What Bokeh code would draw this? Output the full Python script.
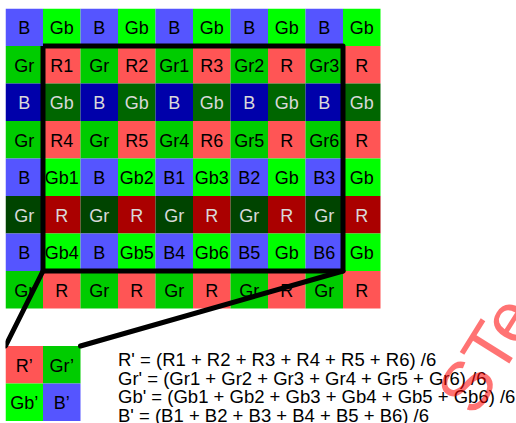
import re
from bokeh.plotting import figure
from bokeh.models import Range1d, ColumnDataSource, Label
from bokeh.core.properties import value
from bokeh.embed import file_html
from bokeh.resources import INLINE

# ---------------- data ----------------
grid_labels = [
    ["B", "Gb", "B", "Gb", "B", "Gb", "B", "Gb", "B", "Gb"],
    ["Gr", "R1", "Gr", "R2", "Gr1", "R3", "Gr2", "R", "Gr3", "R"],
    ["B", "Gb", "B", "Gb", "B", "Gb", "B", "Gb", "B", "Gb"],
    ["Gr", "R4", "Gr", "R5", "Gr4", "R6", "Gr5", "R", "Gr6", "R"],
    ["B", "Gb1", "B", "Gb2", "B1", "Gb3", "B2", "Gb", "B3", "Gb"],
    ["Gr", "R", "Gr", "R", "Gr", "R", "Gr", "R", "Gr", "R"],
    ["B", "Gb4", "B", "Gb5", "B4", "Gb6", "B5", "Gb", "B6", "Gb"],
    ["Gr", "R", "Gr", "R", "Gr", "R", "Gr", "R", "Gr", "R"],
]
dark_rows = [2, 5]

tile_labels = [["R\u2019", "Gr\u2019"], ["Gb\u2019", "B\u2019"]]

formulas = [
    "R' = (R1 + R2 + R3 + R4 + R5 + R6) /6",
    "Gr' = (Gr1 + Gr2 + Gr3 + Gr4 + Gr5 + Gr6) /6",
    "Gb' = (Gb1 + Gb2 + Gb3 + Gb4 + Gb5 + Gb6) /6",
    "B' = (B1 + B2 + B3 + B4 + B5 + B6) /6",
]

# highlighted block (cols, rows in cell units) and zoom tile position
box_cols = (1, 9)
box_rows = (1, 7)
tile_col, tile_row = 0, 9

watermark = "STe"

# ---------------- styling ----------------
CELL = 37.5
light_colors = {"B": "#5555FF", "Gb": "#00FF00", "Gr": "#00CC00", "R": "#FF5555"}
dark_colors = {"B": "#0000AA", "Gb": "#006600", "Gr": "#004400", "R": "#AA0000"}
FONT = "Liberation Sans"

W, H = 511, 415
p = figure(width=W, height=H, output_backend="svg", toolbar_location=None,
           x_range=Range1d(0, W), y_range=Range1d(H, 0), min_border=0,
           styles={"position": "absolute", "left": "5px", "top": "8px"})
p.axis.visible = False
p.grid.visible = False
p.outline_line_color = None
p.background_fill_color = "white"

xs, ys, cols, txt, tcol = [], [], [], [], []
for r, row in enumerate(grid_labels):
    for c, lab in enumerate(row):
        ch = re.sub(r"\d", "", lab)
        dark = r in dark_rows
        xs.append((c + 0.5) * CELL)
        ys.append((r + 0.5) * CELL)
        cols.append((dark_colors if dark else light_colors)[ch])
        txt.append(lab)
        tcol.append("#D9D9D9" if dark else "#000000")

for r, row in enumerate(tile_labels):
    for c, lab in enumerate(row):
        ch = lab.rstrip("\u2019")
        xs.append((tile_col + c + 0.5) * CELL)
        ys.append((tile_row + r + 0.5) * CELL)
        cols.append(light_colors[ch])
        txt.append(lab)
        tcol.append("#000000")

src = ColumnDataSource(dict(x=xs, y=ys, ty=[y + 1 for y in ys], color=cols,
                            text=txt, tcolor=tcol))
p.rect(x="x", y="y", width=CELL, height=CELL, fill_color="color",
       line_color=None, source=src)
p.text(x="x", y="ty", text="text", text_color="tcolor", text_align="center",
       text_baseline="alphabetic", text_font=value(FONT), text_font_size="18px",
       source=src)

# highlight rectangle
bx0, bx1 = box_cols[0] * CELL, box_cols[1] * CELL
by0, by1 = box_rows[0] * CELL, box_rows[1] * CELL
p.line([bx0, bx1, bx1, bx0, bx0], [by0, by0, by1, by1, by0], line_color="black",
       line_width=5, line_join="round")
# connectors to the tile
tx0, tx1 = tile_col * CELL, (tile_col + 2) * CELL
ty0 = tile_row * CELL
p.line([bx0, tx0], [by1, ty0], line_color="black", line_width=5, line_cap="round")
p.line([bx1, tx1], [by1, ty0], line_color="black", line_width=5, line_cap="round")

# formulas
fx = [3 * CELL] * len(formulas)
fy = [(tile_row + 0.5 * (i + 1)) * CELL - 5.5 for i in range(len(formulas))]
p.text(x=fx, y=fy, text=formulas, text_color="black", text_align="left",
       text_baseline="alphabetic", text_font=value(FONT), text_font_size="18.5px")

# watermark
p.add_layout(Label(x=481, y=346, text=watermark, angle=58, angle_units="deg",
                   text_align="center", text_baseline="middle", text_color="#FF0000",
                   text_alpha=0.55, text_font=FONT, text_font_size="70px"))

open("out.html", "w").write(file_html(p, INLINE))
